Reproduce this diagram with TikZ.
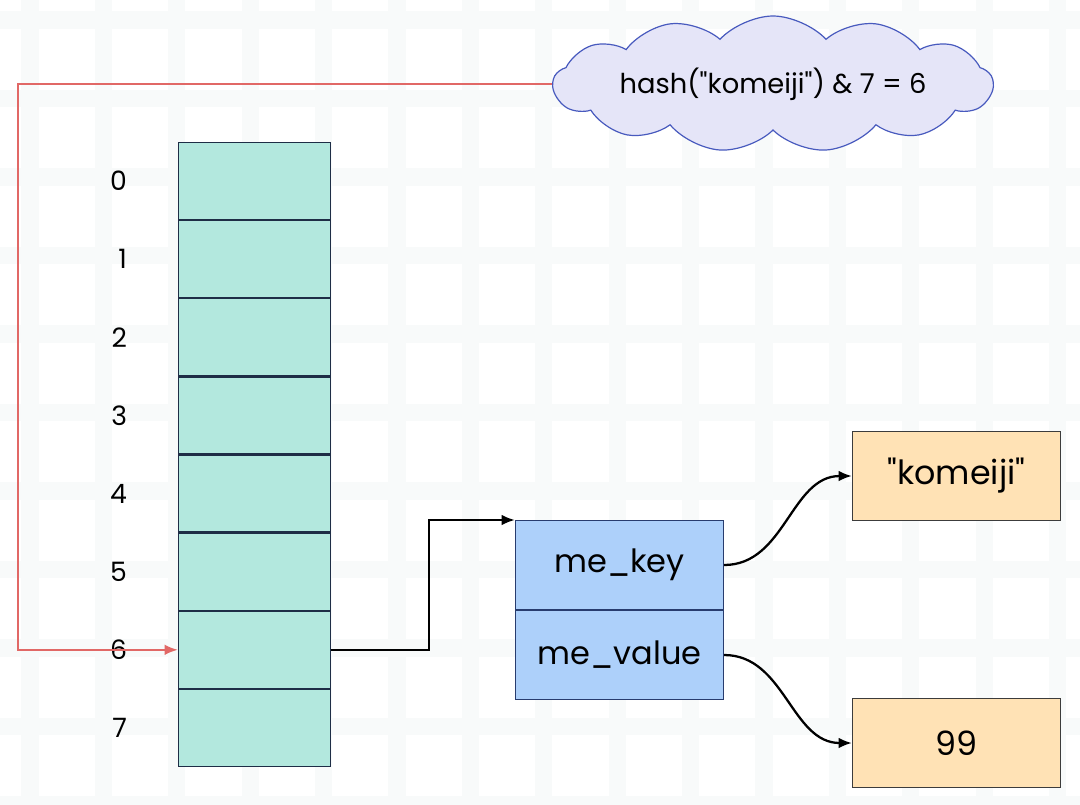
\documentclass[tikz,border=0pt]{standalone}
\usepackage{fontspec}
\setmainfont{Poppins}[Ligatures=TeXOff]
\usepackage{tikz}
\usetikzlibrary{arrows.meta}
\usetikzlibrary{positioning}
\usetikzlibrary{shapes.symbols}
\definecolor{gridc}{RGB}{248,250,250}
\definecolor{slotfill}{RGB}{179,232,222}
\definecolor{slotline}{RGB}{30,45,70}
\definecolor{entryfill}{RGB}{173,208,250}
\definecolor{entryline}{RGB}{40,60,110}
\definecolor{objfill}{RGB}{255,226,181}
\definecolor{objline}{RGB}{60,60,60}
\definecolor{cloudfill}{RGB}{229,229,248}
\definecolor{cloudline}{RGB}{72,90,190}
\definecolor{hashred}{RGB}{225,104,102}

\begin{document}
\begin{tikzpicture}[x=0.75pt,y=-0.75pt,
                    >={Latex[length=10pt,width=8pt]},
                    node distance=0pt,
                    gridline/.style={gridc,line width=13pt},
                    slot/.style={rectangle,draw=slotline,fill=slotfill,line width=0.9pt,
                                 minimum width=114pt,minimum height=57.7pt},
                    idx/.style={inner sep=0pt,font=\fontsize{20}{22}\selectfont},
                    entry/.style={rectangle,draw=entryline,fill=entryfill,line width=0.9pt,
                                  minimum width=156pt,minimum height=66.6pt,
                                  font=\fontsize{24}{28}\selectfont},
                    obj/.style={rectangle,draw=objline,fill=objfill,line width=0.9pt,
                                minimum width=156pt,minimum height=66.6pt,
                                font=\fontsize{25}{30}\selectfont},
                    link/.style={->,black,line width=1.7pt},
                    hashline/.style={->,hashred,line width=1.6pt}
                    ]
  % background
  \useasboundingbox (0,0) rectangle (1080,804);
  \fill[white] (0,0) rectangle (1080,804);
  \begin{scope}
    \clip (0,0) rectangle (1080,804);
    \foreach \k in {0,...,14}
      \draw[gridline] ({30+73.4*\k},0) -- ({30+73.4*\k},804);
    \foreach \k in {0,...,10}
      \draw[gridline] (0,{20+78.5*\k}) -- (1080,{20+78.5*\k});
  \end{scope}

  % hash table slots
  \node[slot] (c0) at (254.5,181) {};
  \foreach \i [count=\j from 0] in {1,...,7}
    \node[slot] (c\i) [below=of c\j] {};
  \foreach \i in {0,...,7}
    \node[idx] (l\i) [left=38pt of c\i] {\i};

  % entry
  \node[entry] (key) at (619.5,565) {me\_key};
  \node[entry] (val) [below=of key] {me\_value};

  % objects
  \node[obj] (kstr) at (956.5,476) {"komeiji"};
  \node[obj] (num) at (956.5,743) {99};

  % hash cloud
  \node[cloud,cloud puffs=13,cloud puff arc=95,cloud ignores aspect,draw=cloudline,fill=cloudfill,
        line width=0.9pt,minimum width=318pt,minimum height=102pt,
        font=\fontsize{20.5}{24}\selectfont] (hash) at (773,84) {hash("komeiji") \& 7 = 6};

  \coordinate (turn) at (18,84);
  \draw[hashline] (hash.west) -- (turn) |- (c6.west);
  \draw[link] (c6.east) -- ([xshift=73.5pt]c6.east) |- (key.north west);
  \draw[link] (key.east) to[out=0,in=180] (kstr.west);
  \draw[link] (val.east) to[out=0,in=180] (num.west);
\end{tikzpicture}
\end{document}
